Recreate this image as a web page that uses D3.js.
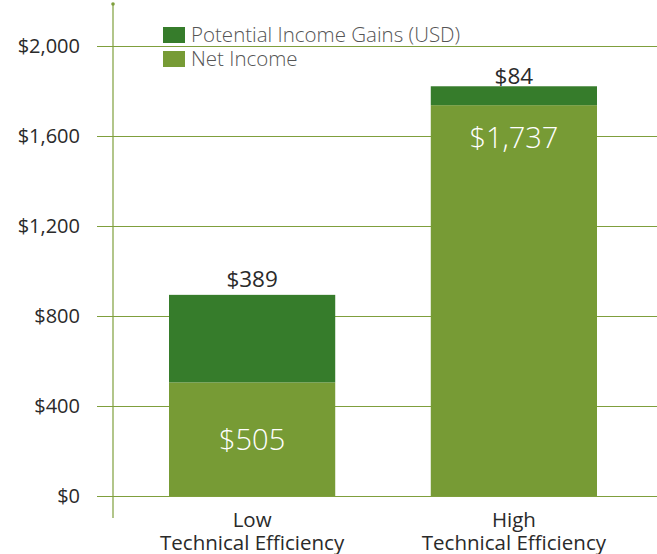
<!DOCTYPE html>
<html>
<head>
<meta charset="utf-8">
<script src="https://cdn.jsdelivr.net/npm/d3@7"></script>
<style>
  body { margin: 0; background: #fff; }
  text { font-family: "Open Sans", sans-serif; }
</style>
</head>
<body>
<script>
//chart data
var categories = ["Low|Technical Efficiency", "High|Technical Efficiency"];
var netIncome = [505, 1737];
var potentialGains = [389, 84];
var seriesNames = ["Potential Income Gains (USD)", "Net Income"];
var yTicks = [0, 400, 800, 1200, 1600, 2000];

window.onload = drawChart();

function drawChart(){

    var width = 657,
        height = 554;

    var colors = { net: "#779b35", gain: "#367c2b", grid: "#7f9f3c" };

    var svg = d3.select("body")
        .append("svg")
        .attr("width", width)
        .attr("height", height);

    //scales
    var y = d3.scaleLinear()
        .domain([0, 2000])
        .range([496, 46]);

    var x = d3.scaleBand()
        .domain(categories)
        .range([169, 597])
        .paddingInner(0.365)
        .paddingOuter(0);

    //gridlines + tick labels
    var yAxis = d3.axisLeft(y)
        .tickValues(yTicks)
        .tickSize(-(width - 97))
        .tickPadding(17)
        .tickFormat(function(d){ return "$" + d3.format(",")(d); });

    var gAxis = svg.append("g")
        .attr("transform", "translate(97,0)")
        .call(yAxis);
    gAxis.select(".domain").remove();
    gAxis.selectAll("line")
        .attr("stroke", colors.grid)
        .attr("stroke-width", 1.2);
    gAxis.selectAll("text")
        .attr("fill", "#2a2a2a")
        .attr("font-size", 20)
        .attr("font-family", "'Open Sans', sans-serif")
        .attr("x", -17);

    //vertical axis line
    svg.append("line")
        .attr("x1", 113).attr("x2", 113)
        .attr("y1", 4).attr("y2", 518)
        .attr("stroke", colors.grid)
        .attr("stroke-width", 1.2);
    svg.append("circle")
        .attr("cx", 113).attr("cy", 4).attr("r", 1.8)
        .attr("fill", colors.grid);

    //stacked bars
    var rows = categories.map(function(c, i){
        return { cat: c, net: netIncome[i], gain: potentialGains[i] };
    });
    var stack = d3.stack().keys(["net", "gain"])(rows);

    svg.selectAll(".layer")
        .data(stack)
        .enter()
        .append("g")
        .attr("class", "layer")
        .attr("fill", function(d){ return colors[d.key]; })
        .selectAll("rect")
        .data(function(d){ return d; })
        .enter()
        .append("rect")
        .attr("x", function(d){ return x(d.data.cat); })
        .attr("width", x.bandwidth())
        .attr("y", function(d){ return y(d[1]); })
        .attr("height", function(d){ return y(d[0]) - y(d[1]); });

    //net income labels inside bars
    svg.selectAll(".netLabel")
        .data(rows)
        .enter()
        .append("text")
        .attr("class", "netLabel")
        .attr("x", function(d){ return x(d.cat) + x.bandwidth() / 2; })
        .attr("y", function(d, i){ return i === 0 ? 450 : 148; })
        .attr("text-anchor", "middle")
        .attr("fill", "#fff")
        .attr("font-size", 29)
        .attr("font-weight", 300)
        .text(function(d){ return "$" + d3.format(",")(d.net); });

    //gain labels above bars
    svg.selectAll(".gainLabel")
        .data(rows)
        .enter()
        .append("text")
        .attr("class", "gainLabel")
        .attr("x", function(d){ return x(d.cat) + x.bandwidth() / 2; })
        .attr("y", function(d, i){ return i === 0 ? 287 : 84; })
        .attr("text-anchor", "middle")
        .attr("fill", "#2a2a2a")
        .attr("font-size", 22.5)
        .text(function(d){ return "$" + d3.format(",")(d.gain); });

    //category labels
    var catLabels = svg.selectAll(".catLabel")
        .data(categories)
        .enter()
        .append("text")
        .attr("class", "catLabel")
        .attr("text-anchor", "middle")
        .attr("fill", "#2a2a2a")
        .attr("font-size", 20.5);
    catLabels.each(function(d){
        var t = d3.select(this);
        d.split("|").forEach(function(part, j){
            t.append("tspan")
                .attr("x", x(d) + x.bandwidth() / 2)
                .attr("y", 527 + j * 23)
                .text(part);
        });
    });

    //legend
    var legend = svg.selectAll(".legend")
        .data(seriesNames)
        .enter()
        .append("g")
        .attr("class", "legend")
        .attr("transform", function(d, i){ return "translate(163," + (27 + i * 24) + ")"; });
    legend.append("rect")
        .attr("width", 22)
        .attr("height", 16)
        .attr("fill", function(d, i){ return i === 0 ? colors.gain : colors.net; });
    legend.append("text")
        .attr("x", 28)
        .attr("y", 15)
        .attr("fill", "#555")
        .attr("font-size", 20.5)
        .attr("font-weight", 300)
        .text(function(d){ return d; });
};
</script>
</body>
</html>
